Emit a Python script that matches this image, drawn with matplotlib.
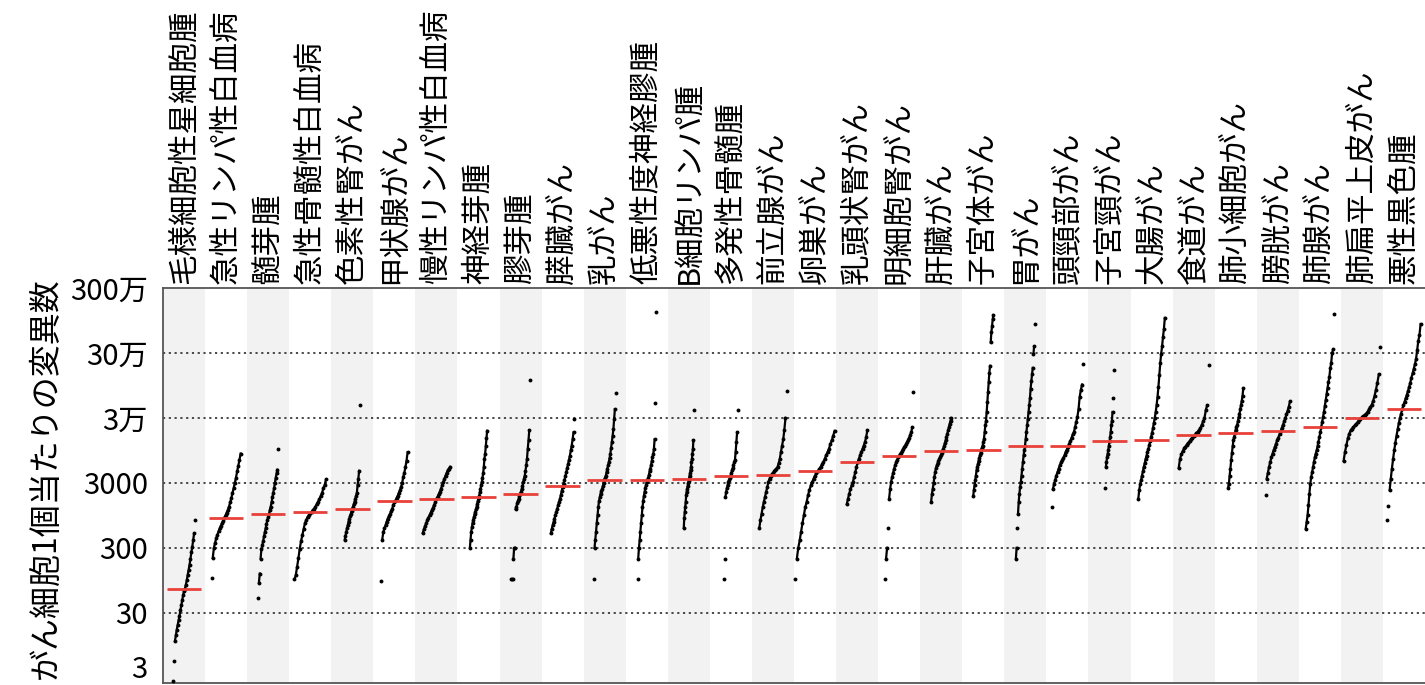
import numpy as np
import matplotlib.pyplot as plt
from matplotlib.transforms import ScaledTranslation

plt.rcParams['font.family'] = ['Noto Sans CJK JP', 'DejaVu Sans']

cancer_types = [
    '毛様細胞性星細胞腫', '急性リンパ性白血病', '髄芽腫', '急性骨髄性白血病', '色素性腎がん',
    '甲状腺がん', '慢性リンパ性白血病', '神経芽腫', '膠芽腫', '膵臓がん',
    '乳がん', '低悪性度神経膠腫', 'B細胞リンパ腫', '多発性骨髄腫', '前立腺がん',
    '卵巣がん', '乳頭状腎がん', '明細胞腎がん', '肝臓がん', '子宮体がん',
    '胃がん', '頭頸部がん', '子宮頸がん', '大腸がん', '食道がん',
    '肺小細胞がん', '膀胱がん', '肺腺がん', '肺扁平上皮がん', '悪性黒色腫',
]

# median per cancer type (red bars)
medians = [70, 880, 1000, 1060, 1200, 1600, 1700, 1800, 2050, 2700,
           3300, 3300, 3500, 3900, 4000, 4500, 6200, 7800, 9400, 9600,
           11200, 11200, 13100, 13900, 16400, 17600, 18700, 21800, 30000, 41700]

# mutations per cancer cell, values
mutations = [
    [2.7, 5.4, 11, 13.5, 16.5, 19.5, 23, 27, 33, 39, 47, 56, 65, 71, 82, 95, 115, 137, 165, 200, 255, 310, 390, 500, 800],
    [103, 210, 300, 360, 420, 480, 540, 600, 660, 720, 790, 880, 950, 1050, 1150, 1300, 1500, 1750, 2100, 2500, 3000, 3600, 4500, 5500, 6800, 8500],
    [50, 87, 121, 206, 290, 330, 380, 450, 520, 600, 700, 800, 900, 1000, 1150, 1300, 1500, 1800, 2100, 2500, 3000, 3600, 4200, 4800, 10000],
    [98, 114, 153, 207, 290, 380, 470, 590, 720, 810, 900, 960, 1020, 1080, 1150, 1200, 1300, 1430, 1550, 1700, 1900, 2100, 2500, 2800, 3400],
    [400, 460, 530, 600, 670, 760, 850, 920, 1000, 1100, 1200, 1300, 1420, 1550, 1700, 1900, 2100, 2800, 3500, 4600, 47000],
    [92, 400, 530, 600, 670, 760, 850, 920, 1000, 1100, 1200, 1360, 1500, 1600, 1750, 1900, 2100, 2300, 2600, 2950, 3700, 4300, 5200, 6600, 8900],
    [510, 580, 650, 720, 800, 880, 960, 1050, 1150, 1250, 1380, 1520, 1700, 1850, 2000, 2200, 2450, 2750, 3100, 3500, 3900, 4300, 4700, 5000, 5300],
    [300, 400, 530, 620, 720, 800, 900, 980, 1070, 1170, 1270, 1430, 1600, 1750, 1900, 2150, 2400, 2750, 3100, 3600, 4200, 5300, 7100, 8500, 11000, 14500, 19000],
    [99, 99, 99, 201, 300, 300, 1180, 1300, 1450, 1600, 1720, 1900, 2050, 2200, 2400, 2700, 3050, 3500, 3900, 4600, 5600, 7100, 10000, 13700, 19500, 117000],
    [500, 590, 670, 750, 850, 950, 1070, 1200, 1350, 1530, 1700, 1940, 2250, 2600, 2900, 3300, 3800, 4400, 5100, 5900, 6800, 7900, 9500, 11300, 14000, 18000, 29000],
    [101, 300, 400, 530, 720, 950, 1270, 1600, 1800, 2050, 2250, 2400, 2650, 2950, 3300, 3600, 3900, 4400, 5000, 5600, 6300, 7300, 8500, 10500, 12800, 16000, 20000, 29000, 41000, 73000],
    [101, 206, 300, 390, 530, 720, 950, 1270, 1600, 1900, 2200, 2500, 2800, 3100, 3300, 3600, 4000, 4500, 5000, 5600, 6500, 7500, 8300, 9950, 14000, 51600, 1300000],
    [610, 870, 1070, 1270, 1530, 1940, 2200, 2460, 2700, 2950, 3200, 3500, 3900, 4200, 4700, 5300, 6200, 7100, 8500, 10100, 13600, 40000],
    [101, 206, 1830, 2180, 2500, 2760, 3100, 3300, 3560, 3900, 4200, 4680, 5100, 5620, 6200, 6700, 9000, 12800, 18100, 40000],
    [610, 800, 1000, 1270, 1530, 1830, 2180, 2600, 3100, 3500, 3900, 4100, 4300, 4500, 4700, 5000, 5300, 6000, 7100, 9000, 11300, 14000, 19800, 30000, 77000],
    [101, 206, 300, 390, 530, 720, 950, 1270, 1530, 1940, 2350, 2750, 3100, 3500, 3900, 4200, 4530, 4900, 5300, 5800, 6300, 7100, 8000, 9000, 10100, 12000, 13600, 16000, 19000],
    [1410, 1720, 2050, 2400, 2750, 3100, 3700, 4400, 5300, 6300, 7100, 8000, 9000, 10100, 11300, 12800, 15300, 19500],
    [101, 206, 300, 610, 1720, 2400, 3100, 3700, 4300, 5000, 5600, 6300, 6800, 7400, 7800, 8300, 8800, 9400, 10000, 10600, 11300, 12000, 12800, 13800, 15000, 16500, 18100, 21500, 74000],
    [1530, 2050, 2450, 2950, 3700, 4400, 5100, 5600, 6000, 6500, 7000, 7500, 8000, 8600, 9300, 10100, 11100, 12300, 13600, 15300, 17200, 19300, 21600, 24500, 27300, 30000],
    [1890, 2330, 2760, 3300, 3900, 4700, 5300, 5900, 6600, 7300, 8000, 8800, 9600, 10500, 11300, 12700, 14300, 18100, 23000, 27000, 37000, 52000, 75000, 106000, 150000, 190000, 437000, 624000, 780000, 990000, 1150000],
    [206, 300, 610, 1000, 1530, 2050, 2600, 3100, 3900, 5000, 6300, 8000, 9600, 11300, 14300, 18100, 23000, 29000, 37000, 47000, 60000, 85000, 110000, 140000, 177000, 290000, 380000, 837000],
    [1270, 2400, 2850, 3300, 3900, 4400, 5000, 5600, 6200, 6700, 7300, 8000, 9000, 9800, 10800, 12100, 13300, 14800, 16700, 18100, 21500, 26000, 31000, 41000, 64000, 81000, 98000, 201000],
    [2520, 5300, 6300, 7600, 8500, 9600, 11300, 13100, 15300, 18100, 23000, 27000, 37000, 60000, 162000],
    [1720, 2330, 2850, 3300, 3900, 4500, 5300, 6000, 7000, 7900, 9000, 10100, 11600, 13200, 15300, 17700, 20800, 25200, 30000, 37000, 47000, 63000, 90000, 136000, 210000, 290000, 380000, 530000, 700000, 1040000],
    [5100, 7100, 8300, 9300, 10200, 10900, 11700, 12400, 13200, 14000, 14800, 15800, 16600, 17500, 18400, 19500, 21000, 23600, 26500, 30000, 40000, 47000, 194000],
    [2540, 2930, 3900, 5000, 6700, 8600, 11000, 13600, 15500, 17500, 19800, 22000, 23500, 27300, 31000, 34500, 41000, 47000, 55000, 66000, 86000],
    [1980, 3500, 4300, 5300, 6300, 7400, 8500, 9600, 10700, 12100, 13600, 15000, 16800, 18700, 21000, 23600, 26500, 30000, 34000, 39000, 45000, 54000],
    [595, 750, 950, 1350, 2050, 2900, 3700, 4400, 5200, 6300, 7400, 8500, 9500, 11000, 13000, 15300, 18000, 21500, 26000, 31000, 37000, 46000, 57000, 70000, 88000, 106000, 130000, 175000, 210000, 300000, 340000, 1190000],
    [6550, 9000, 11500, 14500, 17200, 19300, 20500, 21800, 23000, 24500, 26000, 27500, 29300, 30500, 32000, 33500, 35000, 37500, 40500, 44000, 48000, 55000, 66000, 82000, 105000, 140000, 375000],
    [820, 1310, 2320, 3500, 5000, 7000, 9500, 12500, 16000, 20000, 25000, 30000, 35000, 41000, 47000, 53000, 60000, 68000, 78000, 90000, 105000, 125000, 145000, 170000, 200000, 240000, 330000, 460000, 560000, 837000],
]

ytick_vals = [3, 30, 300, 3000, 30000, 300000, 3000000]
ytick_labels = ['3', '30', '300', '3000', '3万', '30万', '300万']

# horizontal extent of each point cloud, as a fraction of the column width
spread = [0.52, 0.69, 0.48, 0.75, 0.36, 0.63, 0.65, 0.41, 0.45, 0.56,
          0.52, 0.44, 0.24, 0.33, 0.65, 0.93, 0.49, 0.67, 0.48, 0.48,
          0.45, 0.75, 0.20, 0.63, 0.71, 0.36, 0.58, 0.67, 0.87, 0.79]

fig = plt.figure(figsize=(14.25, 6.85), dpi=100)
ax = fig.add_axes([163 / 1425, 2 / 685, 1262 / 1425, 395 / 685])

n = len(cancer_types)
for i in range(n):
    if i % 2 == 0:
        ax.axvspan(i - 0.5, i + 0.5, color='#f2f2f2', lw=0, zorder=0)

for v in ytick_vals[1:-1]:
    ax.axhline(v, color='#3a3a3a', lw=1.3, ls=(0, (1.2, 2.0)), zorder=1)

for i, vals in enumerate(mutations):
    vals = np.sort(np.asarray(vals, dtype=float))
    x = i + np.linspace(-spread[i] / 2, spread[i] / 2, len(vals))
    # join neighbouring points of the dense part so the cloud reads as a curve
    lx, ly = [x[0]], [vals[0]]
    for k in range(1, len(vals)):
        if np.log10(vals[k] / vals[k - 1]) > 0.2:
            lx.append(np.nan)
            ly.append(np.nan)
        lx.append(x[k])
        ly.append(vals[k])
    ax.plot(lx, ly, '-', lw=1.6, color='black', zorder=3)
    ax.plot(x, vals, 'o', ms=2.8, color='black', mec='none', zorder=3)
    ax.plot([i - 0.41, i + 0.41], [medians[i], medians[i]], color='#e8413a',
            lw=2, solid_capstyle='butt', zorder=4)

ax.set_yscale('log')
ax.set_ylim(2.5, 3e6)
ax.set_xlim(-0.5, n - 0.5)
ax.set_yticks(ytick_vals)
ax.set_yticklabels(ytick_labels)
ax.minorticks_off()
ax.tick_params(axis='y', length=0, pad=11, labelsize=21)

# the lowest label sits a little higher than its tick in the original
lab = ax.get_yticklabels()[0]
lab.set_transform(lab.get_transform() + ScaledTranslation(0, 0.11, fig.dpi_scale_trans))

ax.xaxis.tick_top()
ax.set_xticks(range(n))
ax.set_xticklabels(cancer_types, rotation=90, fontsize=22, va='bottom', ha='center')
ax.tick_params(axis='x', length=0, pad=3)

for s in ax.spines.values():
    s.set_color('#555555')
    s.set_linewidth(1.3)
ax.spines['right'].set_visible(False)

fig.text(0.032, 0.302, 'がん細胞1個当たりの変異数', rotation=90, fontsize=23,
         ha='center', va='center')

fig.savefig('out.png', dpi=100)
